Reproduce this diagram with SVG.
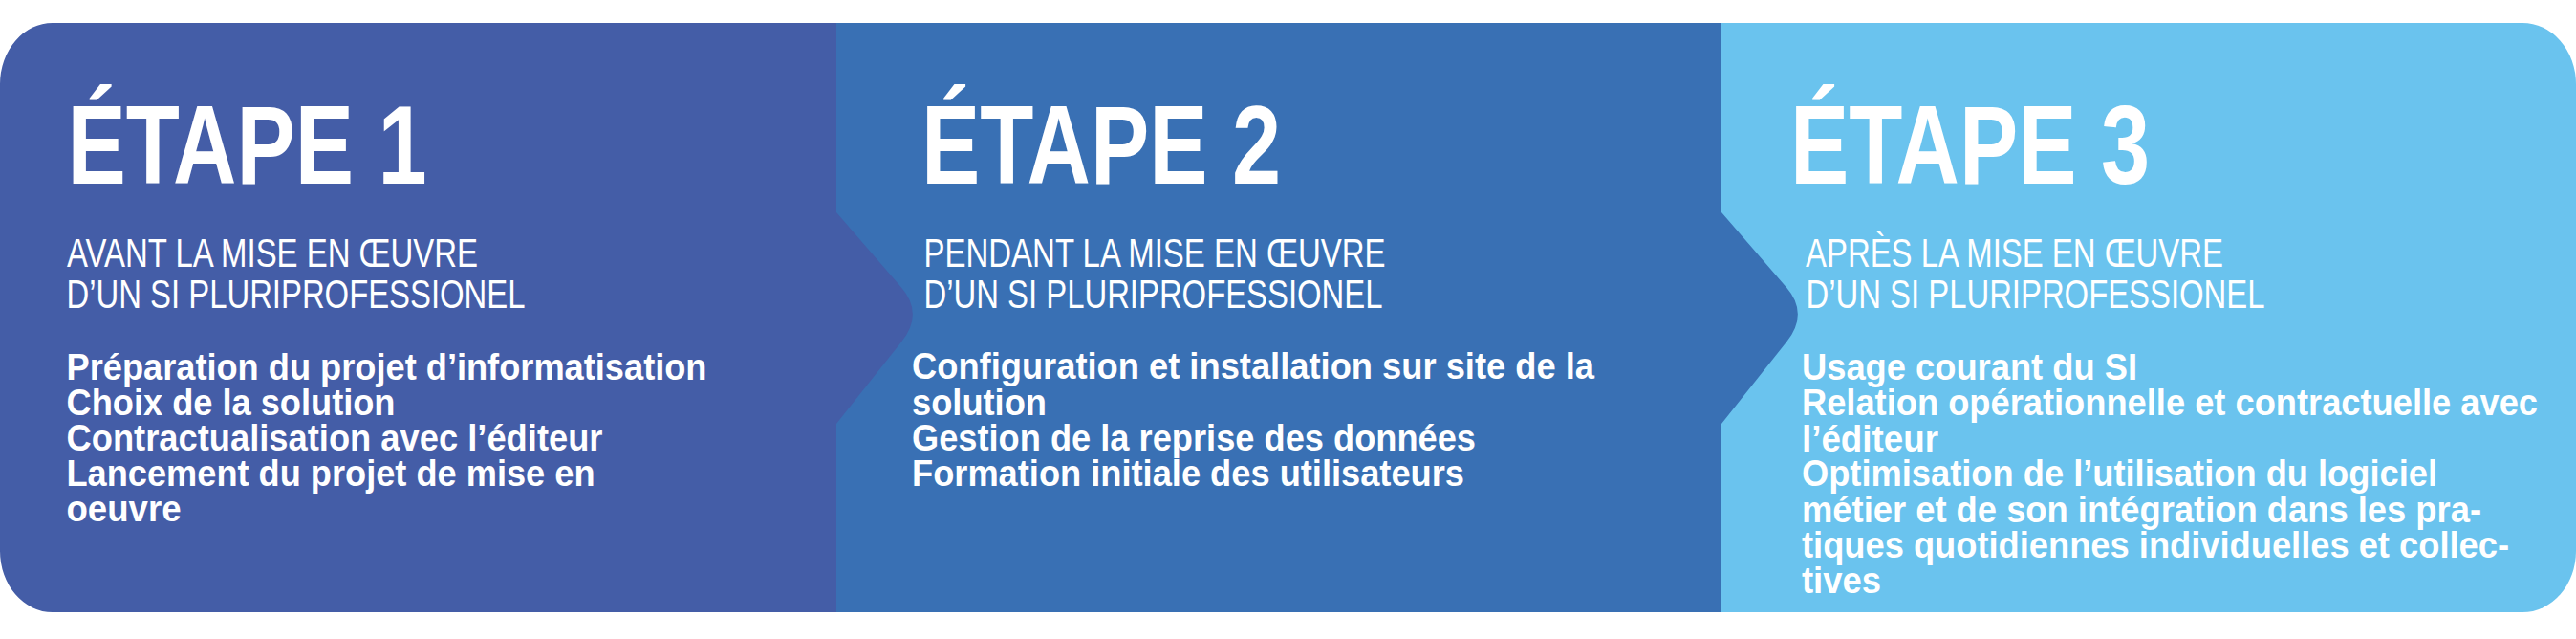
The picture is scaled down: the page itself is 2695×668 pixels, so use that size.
<svg xmlns="http://www.w3.org/2000/svg" width="2695" height="668" viewBox="0 0 2695 668">
  <style>
    text { font-family: "Liberation Sans", Arial, "Noto Sans", sans-serif; fill: #ffffff; }
    .title { font-weight: 700; font-size: 116px; }
    .sub { font-weight: 400; font-size: 42px; }
    .body { font-weight: 700; font-size: 39px; }
    .s1 { fill: #445DA7; }
    .s2 { fill: #3970B4; }
    .s3 { fill: #6AC3EE; }
  </style>
  <rect width="2695" height="668" fill="#ffffff"/>

  <g id="etape3">
    <path class="s3" d="M1801,24 H2639 A56,64 0 0 1 2695,88 V576 A56,64 0 0 1 2639,640 H1801 Z"/>
    <text class="title" x="1873" y="192" textLength="376" lengthAdjust="spacingAndGlyphs">ÉTAPE 3</text>
    <text class="sub" x="1889" y="279" textLength="437" lengthAdjust="spacingAndGlyphs">APRÈS LA MISE EN ŒUVRE</text>
    <text class="sub" x="1889.5" y="322" textLength="480" lengthAdjust="spacingAndGlyphs">D’UN SI PLURIPROFESSIONEL</text>
    <text class="body" x="1885" y="396.5" textLength="351" lengthAdjust="spacingAndGlyphs">Usage courant du SI</text>
    <text class="body" x="1885" y="434" textLength="770" lengthAdjust="spacingAndGlyphs">Relation opérationnelle et contractuelle avec</text>
    <text class="body" x="1885" y="471.5" textLength="143" lengthAdjust="spacingAndGlyphs">l’éditeur</text>
    <text class="body" x="1885" y="508" textLength="665" lengthAdjust="spacingAndGlyphs">Optimisation de l’utilisation du logiciel</text>
    <text class="body" x="1885" y="545.5" textLength="711" lengthAdjust="spacingAndGlyphs">métier et de son intégration dans les pra-</text>
    <text class="body" x="1885" y="583" textLength="740" lengthAdjust="spacingAndGlyphs">tiques quotidiennes individuelles et collec-</text>
    <text class="body" x="1885" y="620" textLength="83" lengthAdjust="spacingAndGlyphs">tives</text>
  </g>

  <g id="etape2">
    <path class="s2" d="M875,24 H1801 V222 L1869,300.5 Q1892.7,327.8 1869,357.6 L1801,443 V640 H875 Z"/>
    <text class="title" x="964" y="192" textLength="376" lengthAdjust="spacingAndGlyphs">ÉTAPE 2</text>
    <text class="sub" x="966.5" y="279" textLength="483" lengthAdjust="spacingAndGlyphs">PENDANT LA MISE EN ŒUVRE</text>
    <text class="sub" x="966.5" y="322" textLength="480" lengthAdjust="spacingAndGlyphs">D’UN SI PLURIPROFESSIONEL</text>
    <text class="body" x="954" y="396" textLength="714" lengthAdjust="spacingAndGlyphs">Configuration et installation sur site de la</text>
    <text class="body" x="954" y="433.5" textLength="141" lengthAdjust="spacingAndGlyphs">solution</text>
    <text class="body" x="954" y="471" textLength="590" lengthAdjust="spacingAndGlyphs">Gestion de la reprise des données</text>
    <text class="body" x="954" y="508" textLength="578" lengthAdjust="spacingAndGlyphs">Formation initiale des utilisateurs</text>
  </g>

  <g id="etape1">
    <path class="s1" d="M55,24 H875 V222 L943,300.5 Q966.7,327.8 943,357.6 L875,443 V640 H55 A55,64 0 0 1 0,576 V88 A55,64 0 0 1 55,24 Z"/>
    <text class="title" x="70.5" y="192" textLength="376" lengthAdjust="spacingAndGlyphs">ÉTAPE 1</text>
    <text class="sub" x="70" y="278.5" textLength="430" lengthAdjust="spacingAndGlyphs">AVANT LA MISE EN ŒUVRE</text>
    <text class="sub" x="69.5" y="322" textLength="480" lengthAdjust="spacingAndGlyphs">D’UN SI PLURIPROFESSIONEL</text>
    <text class="body" x="69.5" y="397" textLength="670" lengthAdjust="spacingAndGlyphs">Préparation du projet d’informatisation</text>
    <text class="body" x="69.5" y="434" textLength="344" lengthAdjust="spacingAndGlyphs">Choix de la solution</text>
    <text class="body" x="69.5" y="471" textLength="561" lengthAdjust="spacingAndGlyphs">Contractualisation avec l’éditeur</text>
    <text class="body" x="69.5" y="508" textLength="553" lengthAdjust="spacingAndGlyphs">Lancement du projet de mise en</text>
    <text class="body" x="69.5" y="545" textLength="120" lengthAdjust="spacingAndGlyphs">oeuvre</text>
  </g>

  <g id="connectors"></g>
</svg>
